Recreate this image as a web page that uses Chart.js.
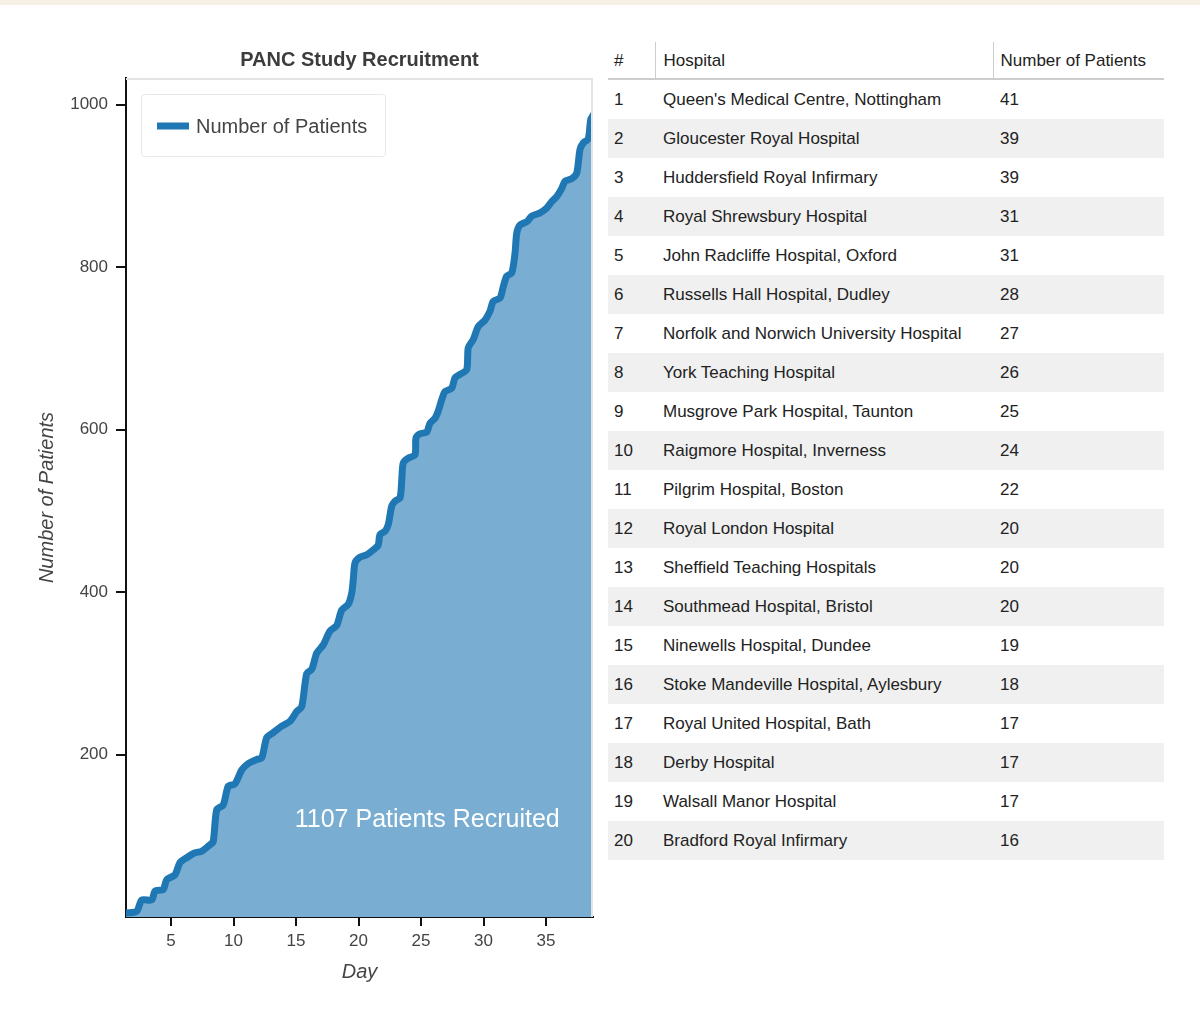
<!DOCTYPE html>
<html>
<head>
<meta charset="utf-8">
<title>PANC Study Recruitment</title>
<script src="https://cdn.jsdelivr.net/npm/chart.js@4.4.0/dist/chart.umd.min.js"></script>
<style>
  html, body { margin: 0; padding: 0; background: #fff; }
  body {
    width: 1200px; height: 1013px; position: relative; overflow: hidden;
    font-family: "Liberation Sans", Arial, Helvetica, sans-serif;
  }
  .topbar { position: absolute; left: 0; top: 0; width: 1200px; height: 5px; background: #f5f0e3; }
  .chart-box { position: absolute; left: 0; top: 0; width: 600px; height: 1013px; }
  #rank-table {
    position: absolute; left: 608px; top: 42px; width: 556px;
    border-collapse: collapse; table-layout: fixed;
    font-size: 17px; color: #222;
  }
  #rank-table th {
    font-weight: normal; text-align: left; height: 34px; padding: 2px 0 0 0;
    border-bottom: 2px solid #cdcdcd;
  }
  #rank-table th + th { border-left: 1px solid #cdcdcd; }
  #rank-table td { height: 39px; padding: 0; white-space: nowrap; }
  #rank-table .c1 { padding-left: 6px; }
  #rank-table .c2 { padding-left: 8px; }
  #rank-table .c3 { padding-left: 7px; }
  #rank-table tbody tr:nth-child(even) td { background: #f0f0f0; }
</style>
</head>
<body>
<div class="topbar"></div>
<div class="chart-box"><canvas id="chart" width="600" height="1013"></canvas></div>
<table id="rank-table">
  <colgroup><col style="width:47px"><col style="width:338px"><col style="width:171px"></colgroup>
  <thead><tr><th class="c1">#</th><th class="c2">Hospital</th><th class="c3">Number of Patients</th></tr></thead>
  <tbody></tbody>
</table>
<script>
// cumulative recruitment
const days = [1.4, 2.26, 2.66, 3.46, 3.72, 4.38, 4.66, 5.32, 5.72, 6.26, 6.92, 7.46, 8.12, 8.38, 8.66,
  9.18, 9.58, 10.12, 10.66, 11.18, 11.86, 12.26, 12.66, 13.18, 13.86, 14.52, 15.06, 15.46, 15.86, 16.26,
  16.66, 17.18, 17.72, 18.26, 18.66, 19.18, 19.46, 19.58, 19.72, 20.12, 20.66, 21.18, 21.58, 21.72, 22.12,
  22.38, 22.66, 22.92, 23.32, 23.46, 23.58, 23.98, 24.52, 24.6, 24.92, 25.46, 25.72, 26.12, 26.38, 26.66,
  26.92, 27.46, 27.72, 28.12, 28.66, 28.78, 29.18, 29.58, 30.12, 30.52, 30.78, 31.32, 31.58, 31.86, 32.26,
  32.52, 32.66, 32.92, 33.46, 33.86, 34.52, 35.06, 35.46, 35.86, 36.26, 36.52, 37.06, 37.46, 37.72, 37.98,
  38.38, 38.58, 38.8];
const patients = [5, 7, 21, 21, 32, 34, 46, 52, 67, 73, 79, 81, 89, 93, 132,
  138, 161, 164, 181, 189, 194, 196, 221, 227, 235, 241, 253, 259, 300, 305,
  325, 335, 352, 359, 378, 385, 399, 415, 436, 443, 446, 452, 458, 471, 475,
  483, 506, 512, 516, 538, 559, 565, 569, 590, 595, 597, 608, 614, 623, 637,
  647, 651, 664, 668, 674, 701, 711, 727, 735, 746, 758, 762, 776, 789, 793,
  817, 842, 852, 856, 863, 867, 873, 881, 887, 897, 906, 909, 916, 945, 953,
  958, 982, 988];

const xTicks = [5, 10, 15, 20, 25, 30, 35];
const yTicks = [200, 400, 600, 800, 1000];

const hospitals = [
  "Queen's Medical Centre, Nottingham", 'Gloucester Royal Hospital', 'Huddersfield Royal Infirmary',
  'Royal Shrewsbury Hospital', 'John Radcliffe Hospital, Oxford', 'Russells Hall Hospital, Dudley',
  'Norfolk and Norwich University Hospital', 'York Teaching Hospital', 'Musgrove Park Hospital, Taunton',
  'Raigmore Hospital, Inverness', 'Pilgrim Hospital, Boston', 'Royal London Hospital',
  'Sheffield Teaching Hospitals', 'Southmead Hospital, Bristol', 'Ninewells Hospital, Dundee',
  'Stoke Mandeville Hospital, Aylesbury', 'Royal United Hospital, Bath', 'Derby Hospital',
  'Walsall Manor Hospital', 'Bradford Royal Infirmary'
];
const hospitalPatients = [41, 39, 39, 31, 31, 28, 27, 26, 25, 24, 22, 20, 20, 20, 19, 18, 17, 17, 17, 16];

const chartTitle = 'PANC Study Recruitment';
const seriesLabel = 'Number of Patients';
const totalLabel = '1107 Patients Recruited';
const totalLabelAt = { x: 25.5, y: 119 };

const FONT = '"Liberation Sans", Arial, Helvetica, sans-serif';
const LINE_BLUE = '#1f77b4';

// table
const tbody = document.querySelector('#rank-table tbody');
tbody.innerHTML = hospitals.map((name, i) =>
  `<tr><td class="c1">${i + 1}</td><td class="c2">${name}</td><td class="c3">${hospitalPatients[i]}</td></tr>`
).join('');

/**
 * frame, title, legend box and the total label
 */
const decorPlugin = {
  id: 'decor',
  afterDatasetsDraw(chart) {
    const { ctx, chartArea: a } = chart;
    ctx.save();

    // light frame on top and right
    ctx.strokeStyle = '#e4e4e4';
    ctx.lineWidth = 2;
    ctx.beginPath();
    ctx.moveTo(a.left, a.top + 1);
    ctx.lineTo(a.right - 1, a.top + 1);
    ctx.lineTo(a.right - 1, a.bottom);
    ctx.stroke();

    // total label
    ctx.fillStyle = '#fff';
    ctx.font = '25px ' + FONT;
    ctx.textAlign = 'center';
    ctx.textBaseline = 'middle';
    ctx.fillText(totalLabel, chart.scales.x.getPixelForValue(totalLabelAt.x), chart.scales.y.getPixelForValue(totalLabelAt.y));

    // title centered over the plot
    ctx.fillStyle = '#3c3c3c';
    ctx.font = 'bold 20px ' + FONT;
    ctx.fillText(chartTitle, (a.left + a.right) / 2, a.top - 18);

    // legend inside plot
    const lx = a.left + 15, ly = a.top + 16, lw = 244, lh = 62;
    ctx.fillStyle = '#fff';
    ctx.strokeStyle = '#e8e8e8';
    ctx.lineWidth = 1;
    ctx.beginPath();
    ctx.roundRect(lx + 0.5, ly + 0.5, lw, lh, 3);
    ctx.fill();
    ctx.stroke();

    ctx.strokeStyle = LINE_BLUE;
    ctx.lineWidth = 7;
    ctx.beginPath();
    ctx.moveTo(lx + 16, ly + 32);
    ctx.lineTo(lx + 48, ly + 32);
    ctx.stroke();

    ctx.fillStyle = '#444';
    ctx.font = '20px ' + FONT;
    ctx.textAlign = 'left';
    ctx.fillText(seriesLabel, lx + 55, ly + 33);

    ctx.restore();
  }
};

new Chart(document.getElementById('chart'), {
  type: 'line',
  data: {
    datasets: [{
      label: seriesLabel,
      data: days.map((d, i) => ({ x: d, y: patients[i] })),
      borderColor: LINE_BLUE,
      backgroundColor: 'rgb(121,173,210)',
      borderWidth: 7,
      borderJoinStyle: 'round',
      borderCapStyle: 'round',
      fill: 'origin',
      pointRadius: 0,
      tension: 0.25
    }]
  },
  options: {
    responsive: false,
    animation: false,
    devicePixelRatio: 1,
    layout: { padding: { left: 30, right: 7, top: 78, bottom: 20 } },
    plugins: {
      legend: { display: false },
      title: { display: false },
      tooltip: { enabled: false }
    },
    scales: {
      x: {
        type: 'linear',
        min: 1.4,
        max: 38.76,
        afterBuildTicks: s => { s.ticks = xTicks.map(v => ({ value: v })); },
        afterFit: s => { s.height = 76; },
        grid: { drawOnChartArea: false, tickLength: 9, color: '#111', lineWidth: 2 },
        border: { display: true, color: '#111', width: 2 },
        ticks: { color: '#444', font: { size: 17, family: FONT }, padding: 5, maxRotation: 0, callback: v => String(v) },
        title: {
          display: true, text: 'Day', color: '#444',
          font: { size: 20, style: 'italic', family: FONT },
          padding: { top: 0, bottom: 9 }
        }
      },
      y: {
        type: 'linear',
        min: 0,
        max: 1033,
        afterBuildTicks: s => { s.ticks = yTicks.map(v => ({ value: v })); },
        afterFit: s => { s.width = 96; },
        grid: { drawOnChartArea: false, tickLength: 10, color: '#111', lineWidth: 2 },
        border: { display: true, color: '#111', width: 2 },
        ticks: { color: '#444', font: { size: 17, family: FONT }, padding: 8, callback: v => String(v) },
        title: {
          display: true, text: 'Number of Patients', color: '#444',
          font: { size: 20, style: 'italic', family: FONT },
          padding: { top: 5, bottom: 0 }
        }
      }
    }
  },
  plugins: [decorPlugin]
});
</script>
</body>
</html>
